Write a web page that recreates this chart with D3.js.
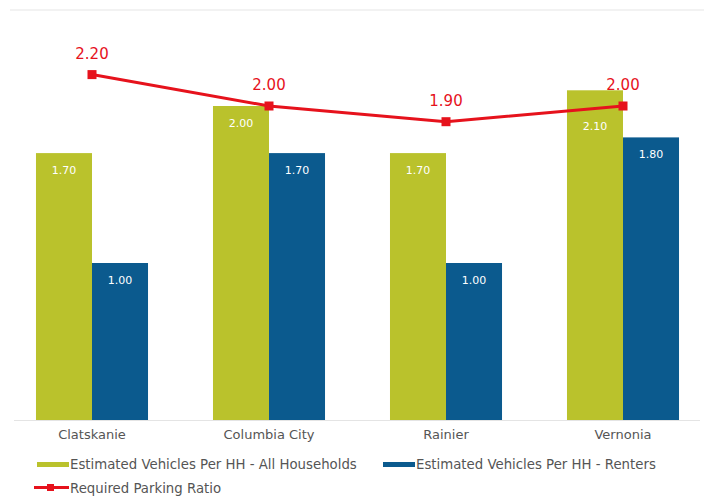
<!DOCTYPE html>
<html>
<head>
<meta charset="utf-8">
<script src="https://cdn.jsdelivr.net/npm/d3@7"></script>
<style>
  html, body { margin: 0; padding: 0; background: #fff; }
  svg { display: block; font-family: "DejaVu Sans", "Open Sans", sans-serif; }
</style>
</head>
<body>
<svg id="chart" width="704" height="497"></svg>
<script>
const categories = ["Clatskanie", "Columbia City", "Rainier", "Vernonia"];
const allHouseholds = [1.70, 2.00, 1.70, 2.10];
const renters = [1.00, 1.70, 1.00, 1.80];
const requiredParking = [2.20, 2.00, 1.90, 2.00];
const seriesNames = [
  "Estimated Vehicles Per HH - All Households",
  "Estimated Vehicles Per HH - Renters",
  "Required Parking Ratio"
];

const GREEN = "#bac22c";
const BLUE = "#0b5a8e";
const RED = "#e6121c";
const TEXT = "#555";

const svg = d3.select("#chart");
const baseY = 420;

const x = d3.scaleBand()
  .domain(categories)
  .range([3.5, 711.5])
  .paddingInner(0.367)
  .paddingOuter(0.1835);

const sub = d3.scaleBand()
  .domain(["all", "renters"])
  .range([0, x.bandwidth()]);

const y = d3.scaleLinear().domain([0, 1]).range([baseY, baseY - 157]);

// frame lines
svg.append("line").attr("x1", 10).attr("x2", 704).attr("y1", 10).attr("y2", 10)
  .attr("stroke", "#eeeeee").attr("stroke-width", 1.5);
svg.append("line").attr("x1", 14).attr("x2", 700).attr("y1", baseY + 0.5).attr("y2", baseY + 0.5)
  .attr("stroke", "#e4e4e4").attr("stroke-width", 1);

const rows = categories.map((c, i) => ({
  cat: c,
  bars: [
    { key: "all", value: allHouseholds[i], color: GREEN, line: requiredParking[i] },
    { key: "renters", value: renters[i], color: BLUE, line: requiredParking[i] }
  ]
}));

const groups = svg.append("g").selectAll("g").data(rows).join("g")
  .attr("transform", d => `translate(${x(d.cat)},0)`);

groups.selectAll("rect").data(d => d.bars).join("rect")
  .attr("x", d => sub(d.key))
  .attr("width", sub.bandwidth())
  .attr("y", d => y(d.value))
  .attr("height", d => baseY - y(d.value))
  .attr("fill", d => d.color);

// bar value labels; a label that would sit under the ratio line drops below it
function valueLabelY(d) {
  let ly = y(d.value) + 21;
  const lineY = y(d.line);
  if (lineY > ly - 12 && lineY < ly + 4) ly = lineY + 24;
  return ly;
}
groups.selectAll("text.val").data(d => d.bars).join("text")
  .attr("class", "val")
  .attr("x", d => sub(d.key) + sub.bandwidth() / 2)
  .attr("y", valueLabelY)
  .attr("text-anchor", "middle")
  .attr("fill", "#fff")
  .attr("font-size", 11)
  .text(d => d.value.toFixed(2));

// category axis labels
svg.append("g").selectAll("text").data(categories).join("text")
  .attr("x", d => x(d) + x.bandwidth() / 2)
  .attr("y", 439)
  .attr("text-anchor", "middle")
  .attr("fill", TEXT)
  .attr("font-size", 13)
  .text(d => d);

// required parking ratio line
const pts = categories.map((c, i) => ({ cx: x(c) + x.bandwidth() / 2, v: requiredParking[i] }));
svg.append("path")
  .datum(pts)
  .attr("d", d3.line().x(d => d.cx).y(d => y(d.v)))
  .attr("fill", "none")
  .attr("stroke", RED)
  .attr("stroke-width", 3);

svg.append("g").selectAll("rect").data(pts).join("rect")
  .attr("x", d => d.cx - 4.5)
  .attr("y", d => y(d.v) - 4.5)
  .attr("width", 9)
  .attr("height", 9)
  .attr("fill", RED);

svg.append("g").selectAll("text").data(pts).join("text")
  .attr("x", d => d.cx)
  .attr("y", d => y(d.v) - 16)
  .attr("text-anchor", "middle")
  .attr("fill", RED)
  .attr("font-size", 15)
  .attr("font-weight", 500)
  .text(d => d.v.toFixed(2));

// legend
const legend = svg.append("g");
legend.append("rect").attr("x", 37).attr("y", 462).attr("width", 32).attr("height", 5).attr("fill", GREEN);
legend.append("text").attr("x", 70).attr("y", 469).attr("fill", TEXT).attr("font-size", 13.3).text(seriesNames[0]);
legend.append("rect").attr("x", 383).attr("y", 462).attr("width", 32).attr("height", 5).attr("fill", BLUE);
legend.append("text").attr("x", 416).attr("y", 469).attr("fill", TEXT).attr("font-size", 13.3).text(seriesNames[1]);
legend.append("line").attr("x1", 34).attr("x2", 69).attr("y1", 487.5).attr("y2", 487.5)
  .attr("stroke", RED).attr("stroke-width", 3);
legend.append("rect").attr("x", 47).attr("y", 484).attr("width", 7).attr("height", 7).attr("fill", RED);
legend.append("text").attr("x", 70).attr("y", 492.5).attr("fill", TEXT).attr("font-size", 13.3).text(seriesNames[2]);
</script>
</body>
</html>
